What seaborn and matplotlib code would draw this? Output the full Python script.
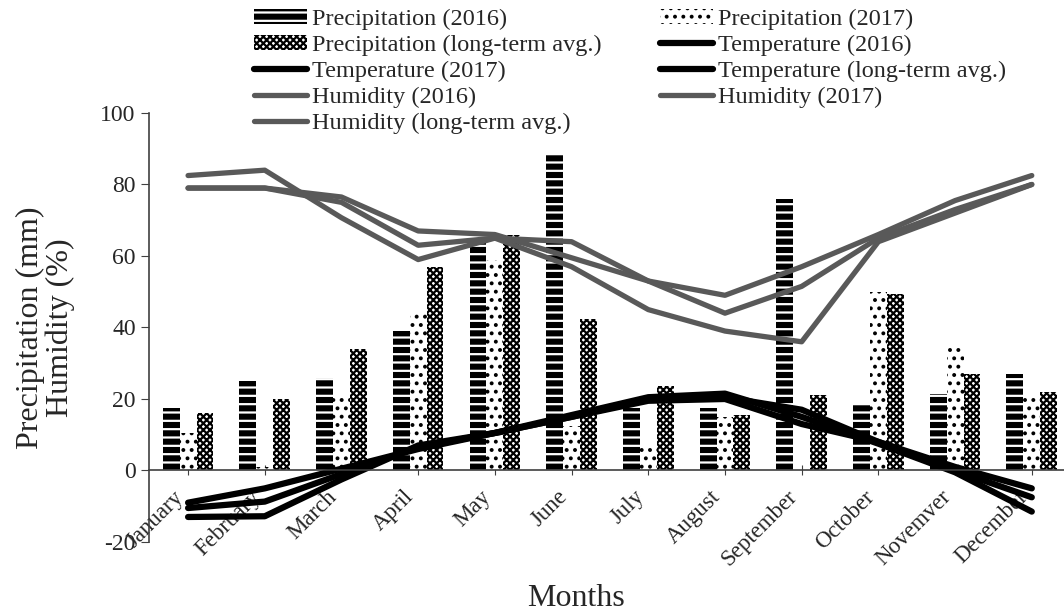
"""Monthly precipitation, temperature and humidity, 2016/2017 vs long-term average."""

import matplotlib
matplotlib.use("Agg")
import matplotlib.pyplot as plt
from matplotlib.lines import Line2D
from matplotlib.patches import Patch
import pandas as pd
import seaborn as sns


MONTHS = ["January", "February", "March", "April", "May", "June", "July",
          "August", "September", "October", "Novemver", "December"]

PRECIP_2016 = [17.5, 25, 26, 39, 64, 88.5, 17.5, 17.5, 76, 18.5, 21.5, 27]
PRECIP_2017 = [10.5, 1, 20.5, 44.5, 59, 12.5, 6.5, 15, 0, 50, 35.5, 20.5]
PRECIP_AVG = [16, 20, 34, 57, 66, 42.5, 23.5, 15.5, 21, 49.5, 27, 22]

TEMP_2016 = [-9, -5, 0.5, 6, 10.5, 15, 19.5, 20, 13, 8, 1, -5]
TEMP_2017 = [-13, -12.8, -2.5, 7, 10.5, 15.5, 20.5, 21.5, 15, 7.5, -0.5, -11.5]
TEMP_AVG = [-10.5, -8.7, -1, 6.5, 10.5, 15, 20, 20.5, 17, 8, 0, -7.5]

HUM_2016 = [82.5, 84, 70.7, 59, 65, 64, 53, 44, 51.5, 65, 73, 80]
HUM_2017 = [79, 79, 76.5, 67, 66, 59.5, 53, 49, 57, 66, 75.5, 82.5]
HUM_AVG = [79, 79, 75, 63, 65, 57, 45, 39, 36, 64, 72, 80]

PRECIP_LABELS = ["Precipitation (2016)", "Precipitation (2017)",
                 "Precipitation (long-term avg.)"]
TEMP_LABELS = ["Temperature (2016)", "Temperature (2017)",
               "Temperature (long-term avg.)"]
HUM_LABELS = ["Humidity (2016)", "Humidity (2017)", "Humidity (long-term avg.)"]

sns.set_style("ticks")
plt.rcParams["font.family"] = ["Liberation Serif", "DejaVu Serif"]
plt.rcParams["axes.unicode_minus"] = False
plt.rcParams["hatch.linewidth"] = 1.6

# bar styles: (facecolor, hatch colour, hatch)
BAR_STYLES = [("black", "white", "--"), ("white", "black", ".."), ("white", "black", "xxxxx")]
GREY = "#595959"

df = pd.DataFrame({
    "Month": MONTHS * 3,
    "value": PRECIP_2016 + PRECIP_2017 + PRECIP_AVG,
    "series": [lab for lab in PRECIP_LABELS for _ in MONTHS],
})

fig = plt.figure(figsize=(10.64, 6.15), dpi=100)
ax = fig.add_axes([0.140, 0.1187, 0.860, 0.6976])

sns.barplot(data=df, x="Month", y="value", hue="series", hue_order=PRECIP_LABELS,
            order=MONTHS, width=0.66, gap=0, palette=["black", "white", "white"],
            legend=False, ax=ax)
for cont, (fc, hc, hatch) in zip(ax.containers, BAR_STYLES):
    for p in cont.patches:
        p.set_facecolor(fc)
        p.set_edgecolor(hc)
        p.set_hatch(hatch)
        p.set_linewidth(0)

for vals in (TEMP_2016, TEMP_2017, TEMP_AVG):
    sns.lineplot(x=MONTHS, y=vals, sort=False, color="black", lw=4.5,
                 solid_capstyle="round", ax=ax)
for vals in (HUM_2016, HUM_2017, HUM_AVG):
    sns.lineplot(x=MONTHS, y=vals, sort=False, color=GREY, lw=3.8,
                 solid_capstyle="round", ax=ax)

ax.set_ylim(-20, 100)
ax.set_yticks(range(-20, 101, 20))
ax.set_xlim(-0.51, 11.42)
ax.spines["bottom"].set_position(("data", 0))
ax.spines["top"].set_visible(False)
ax.spines["right"].set_visible(False)
for s in ("left", "bottom"):
    ax.spines[s].set_color("#404040")
    ax.spines[s].set_linewidth(1.2)
ax.tick_params(axis="y", labelsize=17, length=6, direction="out", color="#404040")
ax.tick_params(axis="x", labelsize=16.5, length=7, direction="inout", pad=8, color="#404040")
plt.setp(ax.get_xticklabels(), rotation=45, ha="right")
ax.set_xlabel("")
ax.set_ylabel("Precipitation (mm)\nHumidity (%)", fontsize=23, labelpad=18, linespacing=1.05)
fig.text(0.541, 0.014, "Months", fontsize=23, ha="center", va="baseline")

handles = [Patch(facecolor=fc, edgecolor=hc, hatch=h, linewidth=0) for fc, hc, h in BAR_STYLES]
handles += [Line2D([], [], color="black", lw=4.5, solid_capstyle="round") for _ in TEMP_LABELS]
handles += [Line2D([], [], color=GREY, lw=3.8, solid_capstyle="round") for _ in HUM_LABELS]
labels = PRECIP_LABELS + TEMP_LABELS + HUM_LABELS
# legend fills by column, so reorder to read row by row
order = [0, 2, 4, 6, 8, 1, 3, 5, 7]
fig.legend([handles[i] for i in order], [labels[i] for i in order], ncol=2,
           loc="upper left", bbox_to_anchor=(0.236, 0.99), frameon=False,
           fontsize=17.5, handlelength=2.2, handleheight=0.6, handletextpad=0.2,
           labelspacing=0.2, columnspacing=2.4, borderpad=0.1, borderaxespad=0)

fig.savefig("out.png", dpi=100)
plt.close(fig)
